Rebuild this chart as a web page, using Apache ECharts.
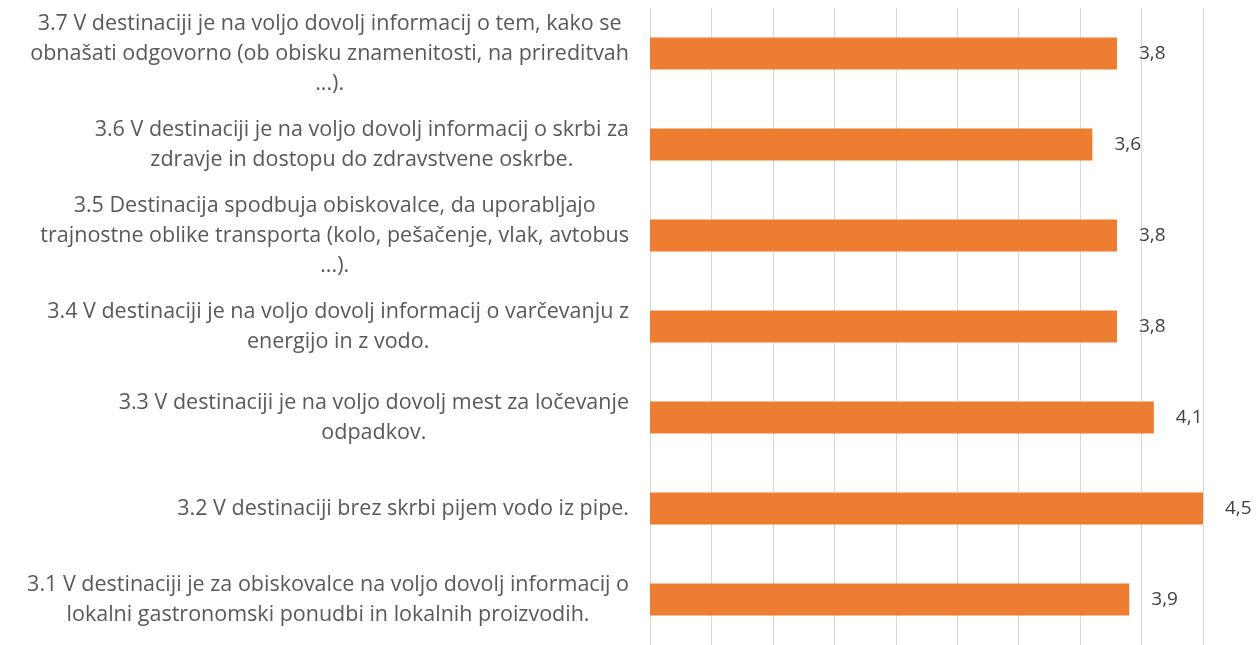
<!DOCTYPE html>
<html>
<head>
<meta charset="utf-8">
<script src="https://cdn.jsdelivr.net/npm/echarts@6/dist/echarts.min.js"></script>
<style>
  html, body { margin: 0; padding: 0; background: #fff; }
  #chart { width: 1256px; height: 645px; }
</style>
</head>
<body>
<div id="chart"></div>
<script>
// statements, top to bottom as shown (line breaks as in the original)
const categories = [
  '3.7 V destinaciji je na voljo dovolj informacij o tem, kako se\nobnašati odgovorno (ob obisku znamenitosti, na prireditvah\n...).',
  '3.6 V destinaciji je na voljo dovolj informacij o skrbi za\nzdravje in dostopu do zdravstvene oskrbe.',
  '3.5 Destinacija spodbuja obiskovalce, da uporabljajo\ntrajnostne oblike transporta (kolo, pešačenje, vlak, avtobus\n...).',
  '3.4 V destinaciji je na voljo dovolj informacij o varčevanju z\nenergijo in z vodo.',
  '3.3 V destinaciji je na voljo dovolj mest za ločevanje\nodpadkov.',
  '3.2 V destinaciji brez skrbi pijem vodo iz pipe.',
  '3.1 V destinaciji je za obiskovalce na voljo dovolj informacij o\nlokalni gastronomski ponudbi in lokalnih proizvodih.'
];
const values = [3.8, 3.6, 3.8, 3.8, 4.1, 4.5, 3.9];

const chart = echarts.init(document.getElementById('chart'));
const font = '"Open Sans", "Noto Sans", sans-serif';

chart.setOption({
  animation: false,
  grid: { left: 650, right: 53, top: 8, bottom: -6 },
  xAxis: {
    type: 'value',
    min: 0,
    max: 4.5,
    interval: 0.5,
    axisLabel: { show: false },
    axisLine: { show: false },
    axisTick: { show: false },
    splitLine: { lineStyle: { color: '#d9d9d9', width: 1 } }
  },
  yAxis: {
    type: 'category',
    inverse: true,
    data: categories,
    axisLine: { show: false },
    axisTick: { show: false },
    axisLabel: {
      margin: 21,
      // wrap every line so lines are centred within the right-aligned block
      formatter: v => v.split('\n').map(l => '{c|' + l + '}').join('\n'),
      rich: {
        c: {
          align: 'center',
          fontFamily: font,
          fontSize: 21.5,
          lineHeight: 30,
          color: '#595959'
        }
      }
    }
  },
  series: [{
    type: 'bar',
    data: values,
    barWidth: 32,
    itemStyle: { color: '#ED7D31' },
    label: {
      show: true,
      position: 'right',
      distance: 22,
      fontFamily: font,
      fontSize: 19,
      color: '#404040',
      formatter: p => p.value.toFixed(1).replace('.', ',')
    }
  }]
});
</script>
</body>
</html>
